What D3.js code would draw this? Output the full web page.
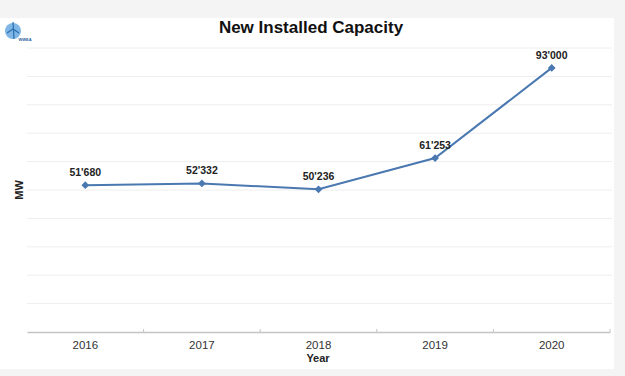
<!DOCTYPE html>
<html><head><meta charset="utf-8">
<script src="https://cdn.jsdelivr.net/npm/d3@7/dist/d3.min.js"></script>
<style>body{margin:0;background:#f4f4f4;}svg{display:block;font-family:Arial,"Liberation Sans",sans-serif;}</style>
</head><body>
<script>
const years = ["2016","2017","2018","2019","2020"];
const capacity = [51680, 52332, 50236, 61253, 93000];
const valueLabels = ["51'680","52'332","50'236","61'253","93'000"];
const yTicks = [0,10000,20000,30000,40000,50000,60000,70000,80000,90000,100000];

const W = 625, H = 376;
const svg = d3.select("body").append("svg").attr("width", W).attr("height", H);
svg.append("rect").attr("x",0).attr("y",0).attr("width",W).attr("height",H).attr("fill","#f4f4f4");
svg.append("rect").attr("x",0).attr("y",18).attr("width",614).attr("height",351).attr("fill","#ffffff");

const x = d3.scaleBand().domain(years).range([27, 610]);
const y = d3.scaleLinear().domain([0, 100000]).range([332, 48]);

// gridlines
svg.append("g").selectAll("line").data(yTicks.slice(1)).join("line")
  .attr("x1", 27).attr("x2", 612)
  .attr("y1", d => y(d)).attr("y2", d => y(d))
  .attr("stroke", "#eeeeee").attr("stroke-width", 1);

// x axis
const xAxis = d3.axisBottom(x).tickSize(0).tickPadding(9);
const gx = svg.append("g").attr("transform", "translate(0,332)").call(xAxis);
gx.select(".domain").attr("stroke", "#c4c4c4").attr("stroke-width", 1.5);
gx.selectAll("text").attr("font-size", 11.5).attr("fill", "#333").attr("font-family", "Arial, Liberation Sans, sans-serif");
// category separators
svg.append("g").selectAll("line").data(years).join("line")
  .attr("x1", d => x(d) + x.bandwidth()).attr("x2", d => x(d) + x.bandwidth())
  .attr("y1", 329).attr("y2", 332)
  .attr("stroke", "#c4c4c4");

// line
const cx = d => x(d) + x.bandwidth() / 2;
const line = d3.line().x((d, i) => cx(years[i])).y(d => y(d));
svg.append("path").datum(capacity).attr("d", line)
  .attr("fill", "none").attr("stroke", "#4a78b0").attr("stroke-width", 2);

// markers
svg.append("g").selectAll("path").data(capacity).join("path")
  .attr("d", d3.symbol().type(d3.symbolSquare).size(30))
  .attr("transform", (d, i) => `translate(${cx(years[i])},${y(d)}) rotate(45)`)
  .attr("fill", "#4a78b0");

// value labels
svg.append("g").selectAll("text").data(capacity).join("text")
  .attr("x", (d, i) => cx(years[i]))
  .attr("y", d => y(d) - 9)
  .attr("text-anchor", "middle").attr("font-size", 10.5).attr("font-weight", "bold").attr("fill", "#222")
  .text((d, i) => valueLabels[i]);

// title
svg.append("text").attr("x", 311).attr("y", 33).attr("text-anchor", "middle")
  .attr("font-size", 17).attr("font-weight", "bold").attr("fill", "#111").text("New Installed Capacity");

// axis titles
svg.append("text").attr("x", 318).attr("y", 362).attr("text-anchor", "middle")
  .attr("font-size", 11).attr("font-weight", "bold").attr("fill", "#222").text("Year");
svg.append("text").attr("transform", "translate(23,190) rotate(-90)").attr("text-anchor", "middle")
  .attr("font-size", 11).attr("font-weight", "bold").attr("fill", "#222").text("MW");

// logo
const logo = svg.append("g").attr("transform", "translate(13,31)");
logo.append("circle").attr("r", 8).attr("fill", "#7fb6e6");
logo.append("path").attr("d", "M0,-9 L1,8 M-6,2 L0,-2 L6,2").attr("stroke", "#2a6fb0").attr("stroke-width", 1.2).attr("fill", "none");
logo.append("text").attr("x", 12).attr("y", 10).attr("text-anchor", "middle").attr("font-size", 4).attr("font-weight", "bold").attr("fill", "#2a5fa0").text("WWEA");
</script>
</body></html>
